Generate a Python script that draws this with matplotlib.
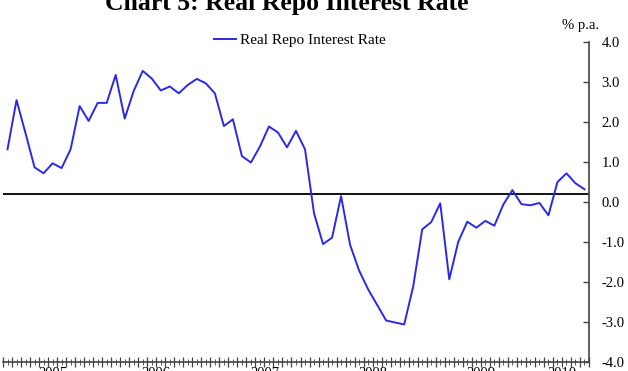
import numpy as np
import matplotlib
matplotlib.use("Agg")
import matplotlib.pyplot as plt
import matplotlib.transforms as mtransforms
from matplotlib.ticker import FixedLocator, NullFormatter

plt.rcParams['font.family'] = ['Liberation Serif', 'DejaVu Serif']

# Monthly data, starting February of the first year
start_year = 2005
start_month = 2
real_repo = [1.31, 2.54, 1.71, 0.86, 0.71, 0.96, 0.84, 1.31, 2.39, 2.02,
             2.47, 2.47, 3.17, 2.08, 2.77, 3.27, 3.08, 2.78, 2.88, 2.71,
             2.92, 3.07, 2.96, 2.71, 1.89, 2.06, 1.14, 0.98, 1.38, 1.88,
             1.73, 1.36, 1.77, 1.31, -0.29, -1.06, -0.90, 0.14, -1.08, -1.72,
             -2.19, -2.58, -2.97, -3.02, -3.07, -2.12, -0.69, -0.51, -0.04, -1.94,
             -1.00, -0.50, -0.65, -0.48, -0.60, -0.07, 0.29, -0.06, -0.09, -0.03,
             -0.34, 0.49, 0.71, 0.46, 0.31]
reference_level = 0.2
y_ticks = [-4.0, -3.0, -2.0, -1.0, 0.0, 1.0, 2.0, 3.0, 4.0]
series_name = "Real Repo Interest Rate"
title = "Chart 5: Real Repo Interest Rate"
unit = "% p.a."

n = len(real_repo)
x = np.arange(n)
years = start_year + (start_month - 1 + x) // 12
year_labels = sorted(set(years))
year_pos = [x[years == y].mean() for y in year_labels]

fig = plt.figure(figsize=(6.28, 3.71), dpi=100)
ax = fig.add_axes([3/628, 1 - 361.7/371, (589 - 3)/628, (361.7 - 41.7)/371])

ax.plot(x, real_repo, color='#2a2ae6', lw=1.4, label=series_name, zorder=3)
ax.axhline(reference_level, color='black', lw=1.3, zorder=2)

ax.set_xlim(-0.5, n - 0.5)
ax.set_ylim(-4, 4)

for s in ['top', 'left']:
    ax.spines[s].set_visible(False)
ax.spines['right'].set_color('#444444')
ax.spines['bottom'].set_color('#444444')
ax.spines['right'].set_linewidth(1.2)
ax.spines['bottom'].set_linewidth(1.2)

ax.yaxis.tick_right()
ax.set_yticks(y_ticks)
ax.set_yticklabels([f"{v:.1f}" for v in y_ticks], fontsize=10.5)
ax.tick_params(axis='y', direction='in', length=4, width=1, color='#444444', pad=9)

ax.xaxis.set_major_locator(FixedLocator(np.arange(-0.5, n, 1.0)))
ax.xaxis.set_minor_locator(FixedLocator(x))
ax.xaxis.set_major_formatter(NullFormatter())
ax.xaxis.set_minor_formatter(NullFormatter())
ax.tick_params(axis='x', which='major', direction='inout', length=7, width=0.9, color='#444444')
ax.tick_params(axis='x', which='minor', direction='inout', length=4, width=0.7, color='#555555')

# Year labels centred on each year's months (only their tops show in the crop)
trans = mtransforms.blended_transform_factory(ax.transData, fig.transFigure)
for yl, xp in zip(year_labels, year_pos):
    ax.text(xp, 1 - 377/371, str(yl), transform=trans, ha='center', va='baseline',
            fontsize=10.5, clip_on=False)

fig.text(0.457, 1 - 10/371, title, ha='center', va='baseline', fontsize=18.5, fontweight='bold')
fig.text(581/628, 1 - 26/371, unit, ha='center', va='center', fontsize=10.5)

ax.legend(loc='center', bbox_to_anchor=(300/628, 1 - 40/371), bbox_transform=fig.transFigure,
          frameon=False, fontsize=11, handlelength=1.4, handletextpad=0.3)

fig.savefig("out.png", dpi=100)
